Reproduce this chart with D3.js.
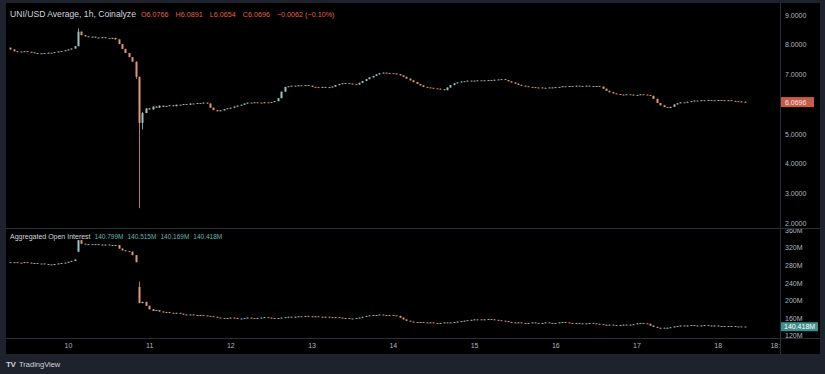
<!DOCTYPE html>
<html>
<head>
<meta charset="utf-8">
<script src="https://cdn.jsdelivr.net/npm/d3@7"></script>
<style>
  html, body { margin: 0; padding: 0; background: #1e222d; }
  svg { display: block; font-family: "Liberation Sans", Arial, sans-serif; }
</style>
</head>
<body>
<div id="chart"></div>
<script>
// hourly candles, hour 0 = the 10th 00:00
const firstHour = -17
const firstOpen = 7.90

// UNI/USD closes, one per hour from hour -17 to hour 200
const priceClose = [
  7.84, 7.78, 7.76, 7.77, 7.78, 7.76, 7.74, 7.72, 7.70, 7.71, 7.72, 7.73,   // -17..-6
  7.72, 7.75, 7.77, 7.79, 7.81, 7.84, 7.87, 7.95, 8.44, 8.32, 8.28, 8.26,   // -5..6
  8.27, 8.24, 8.23, 8.25, 8.22, 8.21, 8.23, 8.18, 8.02, 7.86, 7.72, 7.58,   // 7..18
  7.43, 6.92, 5.37, 5.70, 5.86, 5.82, 5.92, 5.88, 5.95, 5.91, 5.94, 5.96,   // 19..30
  5.93, 5.98, 5.97, 6.00, 5.98, 6.02, 6.01, 6.04, 6.03, 6.05, 6.02, 5.88,   // 31..42
  5.80, 5.76, 5.79, 5.83, 5.86, 5.88, 5.92, 5.95, 5.98, 6.02, 6.05, 6.04,   // 43..54
  6.06, 6.05, 6.04, 6.06, 6.05, 6.07, 6.10, 6.20, 6.42, 6.58, 6.60, 6.62,   // 55..66
  6.61, 6.63, 6.62, 6.64, 6.62, 6.58, 6.57, 6.56, 6.58, 6.56, 6.57, 6.59,   // 67..78
  6.64, 6.68, 6.70, 6.71, 6.69, 6.67, 6.66, 6.72, 6.78, 6.84, 6.90, 6.95,   // 79..90
  7.00, 7.04, 7.06, 7.05, 7.04, 7.03, 7.01, 6.97, 6.92, 6.86, 6.80, 6.74,   // 91..102
  6.68, 6.63, 6.58, 6.56, 6.55, 6.53, 6.52, 6.50, 6.47, 6.56, 6.64, 6.70,   // 103..114
  6.73, 6.76, 6.77, 6.79, 6.78, 6.79, 6.80, 6.79, 6.80, 6.81, 6.80, 6.82,   // 115..126
  6.83, 6.84, 6.81, 6.77, 6.73, 6.69, 6.65, 6.62, 6.60, 6.58, 6.57, 6.55,   // 127..138
  6.56, 6.54, 6.55, 6.56, 6.55, 6.57, 6.58, 6.60, 6.59, 6.61, 6.60, 6.62,   // 139..150
  6.61, 6.60, 6.62, 6.61, 6.60, 6.61, 6.59, 6.52, 6.45, 6.40, 6.36, 6.34,   // 151..162
  6.32, 6.31, 6.33, 6.32, 6.30, 6.31, 6.33, 6.32, 6.31, 6.28, 6.18, 6.04,   // 163..174
  5.96, 5.90, 5.87, 5.91, 5.99, 6.03, 6.06, 6.05, 6.08, 6.10, 6.12, 6.11,   // 175..186
  6.13, 6.12, 6.14, 6.13, 6.12, 6.14, 6.13, 6.12, 6.13, 6.11, 6.10, 6.09,   // 187..198
  6.0766, 6.0696                                                           // 199..200
]

// candles whose wicks reach past the body
const wickHours = [3, 20, 21, 22, 200]
const wickHigh  = [8.55, 7.43, 6.92, 5.74, 6.0891]
const wickLow   = [7.95, 6.85, 2.50, 5.15, 6.0654]

// Aggregated open interest closes (millions), same hours
const oiClose = [
  287, 287, 286, 286, 287, 286, 285, 285, 284, 284, 283, 282,               // -17..-6
  282, 283, 284, 285, 286, 288, 290, 293,                                   // -5..2
  337, 329, 328, 328,                                                       // 3..6
  327, 328, 327, 326, 327, 326, 325, 326,                                   // 7..14
  318, 314, 312, 311, 303, 287,                                             // 15..20
  194, 197, 188, 180, 176,                                                  // 21..25
  178, 175, 173, 174, 172, 171, 172, 170,                                   // 26..33
  168, 167, 168, 167, 166, 167, 166, 165, 164, 163,                         // 34..43
  161, 160, 159, 160, 161, 160, 158, 159, 160, 161, 160, 159, 160,          // 44..56
  161, 162, 161, 160, 159, 160, 161, 162, 163, 162, 163, 164,               // 57..68
  164, 165, 164, 163, 164, 163, 162, 163, 162, 161, 162, 161, 160,          // 69..81
  160, 159, 159, 160, 161, 163, 165,                                        // 82..88
  166, 167, 167, 168, 167, 166, 167, 166, 165,                              // 89..97
  161, 157, 154, 152,                                                       // 98..101
  151, 150, 151, 150, 149, 150, 149, 148, 149, 150, 149, 150, 151, 152, 153, 154, 155, // 102..118
  156, 157, 157, 156, 157, 158, 157, 156, 155, 154, 153, 151,               // 119..130
  150, 149, 150, 149, 148, 149, 150, 149, 148, 149, 150, 149, 148, 149,     // 131..144
  150, 151, 150, 149, 148, 149, 148, 147, 148, 149, 148, 147, 146,          // 145..157
  145, 144, 145, 144, 143, 144, 145, 144, 145, 146,                         // 158..167
  148, 149, 148, 147, 143, 140,                                             // 168..173
  138, 138, 137, 138, 139, 141,                                             // 174..179
  142, 143, 142, 143, 144, 143, 142, 143, 144, 143, 142, 143, 142, 141,     // 180..193
  142, 141, 142, 141, 141, 140.799, 140.418                                 // 194..200
]
const oiGapHours = [3, 21]
const oiGapOpen  = [311, 231]
const oiGapHigh  = [337.5, 243]

// 6.0000 sits under the last-price label, so it is not shown
const priceTicks = [2, 3, 4, 5, 7, 8, 9]
const oiTicks = [120, 160, 200, 240, 280, 320, 360]
const dayTicks = [0, 24, 48, 72, 96, 120, 144, 168, 192, 210]
const dayLabels = ["10", "11", "12", "13", "14", "15", "16", "17", "18", "18:00"]

const headerTitle = "UNI/USD Average, 1h, Coinalyze"
const headerValues = ["O6.0766", "H6.0891", "L6.0654", "C6.0696", "\u22120.0062 (\u22120.10%)"]
const oiTitle = "Aggregated Open Interest"
const oiValues = ["140.799M", "140.515M", "140.169M", "140.418M"]
const lastPrice = "6.0696"
const lastOI = "140.418M"

const upColor = "#9cc3c4"
const downColor = "#e0977f"
const textColor = "#b2b5be"

window.onload = () => {
  const width = 825, height = 374
  const left = 6, right = 780, top = 3, paneSplit = 228, axisTop = 338, bottom = 354

  const svg = d3.select("#chart").append("svg")
    .attr("width", width)
    .attr("height", height)

  // frame and black chart area
  svg.append("rect").attr("width", width).attr("height", height).attr("fill", "#1e222d")
  svg.append("rect")
    .attr("x", left).attr("y", top)
    .attr("width", 820 - left).attr("height", bottom - top)
    .attr("fill", "#000")

  const x = d3.scaleLinear().domain([-18, 210.4]).range([7, right])
  const yPrice = d3.scaleLinear().domain([2, 9]).range([223, 15])
  const yOI = d3.scaleLinear().domain([120, 320]).range([335.7, 247.7])

  const defs = svg.append("defs")
  defs.append("clipPath").attr("id", "clipTop")
    .append("rect").attr("x", left).attr("y", top).attr("width", right - left).attr("height", paneSplit - top)
  defs.append("clipPath").attr("id", "clipBottom")
    .append("rect").attr("x", left).attr("y", paneSplit).attr("width", right - left).attr("height", axisTop - paneSplit)
  defs.append("clipPath").attr("id", "clipOIAxis")
    .append("rect").attr("x", right).attr("y", paneSplit + 1).attr("width", 40).attr("height", axisTop - paneSplit)
  defs.append("clipPath").attr("id", "clipXAxis")
    .append("rect").attr("x", left).attr("y", axisTop).attr("width", right - left).attr("height", bottom - axisTop)

  // build OHLC rows
  const priceData = priceClose.map((c, i) => {
    const h = firstHour + i
    const o = i === 0 ? firstOpen : priceClose[i - 1]
    let hi = Math.max(o, c), lo = Math.min(o, c)
    const w = wickHours.indexOf(h)
    if (w >= 0) { hi = wickHigh[w]; lo = wickLow[w] }
    return { h, o, c, hi, lo }
  })
  const oiData = oiClose.map((c, i) => {
    const h = firstHour + i
    let o = i === 0 ? c : oiClose[i - 1]
    let hi = Math.max(o, c), lo = Math.min(o, c)
    const g = oiGapHours.indexOf(h)
    if (g >= 0) { o = oiGapOpen[g]; hi = oiGapHigh[g]; lo = Math.min(o, c) }
    return { h, o, c, hi, lo }
  })

  const drawCandles = (g, data, y) => {
    const bodyW = 2
    g.selectAll("line.wick").data(data).enter().append("line")
      .attr("class", "wick")
      .attr("x1", d => Math.round(x(d.h)) + 0.5)
      .attr("x2", d => Math.round(x(d.h)) + 0.5)
      .attr("y1", d => y(d.hi))
      .attr("y2", d => y(d.lo))
      .attr("stroke", d => d.c >= d.o ? upColor : downColor)
      .attr("stroke-width", 0.8)
    g.selectAll("rect.body").data(data).enter().append("rect")
      .attr("class", "body")
      .attr("x", d => Math.round(x(d.h)) + 0.5 - bodyW / 2)
      .attr("width", bodyW)
      .attr("y", d => y(Math.max(d.o, d.c)))
      .attr("height", d => Math.max(0.9, Math.abs(y(d.o) - y(d.c))))
      .attr("fill", d => d.c >= d.o ? upColor : downColor)
  }

  drawCandles(svg.append("g").attr("clip-path", "url(#clipTop)"), priceData, yPrice)
  drawCandles(svg.append("g").attr("clip-path", "url(#clipBottom)"), oiData, yOI)

  // separators
  const sep = "#2a2e39"
  svg.append("line").attr("x1", right + 0.5).attr("x2", right + 0.5).attr("y1", top).attr("y2", bottom)
    .attr("stroke", sep)
  svg.append("line").attr("x1", left).attr("x2", 820).attr("y1", paneSplit + 0.5).attr("y2", paneSplit + 0.5)
    .attr("stroke", sep)
  svg.append("line").attr("x1", left).attr("x2", 820).attr("y1", axisTop + 0.5).attr("y2", axisTop + 0.5)
    .attr("stroke", sep)

  // price axis
  const priceAxis = svg.append("g")
    .attr("transform", `translate(${right},0)`)
    .call(d3.axisRight(yPrice).tickValues(priceTicks).tickSize(0).tickPadding(5).tickFormat(d3.format(".4f")))
  priceAxis.select(".domain").remove()
  priceAxis.selectAll("text").attr("fill", textColor).attr("font-size", 7).attr("font-family", "Liberation Sans, Arial, sans-serif")

  // OI axis
  const oiAxis = svg.append("g")
    .attr("clip-path", "url(#clipOIAxis)")
    .append("g")
    .attr("transform", `translate(${right},0)`)
    .call(d3.axisRight(yOI).tickValues(oiTicks).tickSize(0).tickPadding(5).tickFormat(d => d + "M"))
  oiAxis.select(".domain").remove()
  oiAxis.selectAll("text").attr("fill", textColor).attr("font-size", 7).attr("font-family", "Liberation Sans, Arial, sans-serif")

  // time axis
  const timeAxis = svg.append("g")
    .attr("clip-path", "url(#clipXAxis)")
    .append("g")
    .attr("transform", `translate(0,${axisTop})`)
    .call(d3.axisBottom(x).tickValues(dayTicks).tickSize(0).tickPadding(5).tickFormat((d, i) => dayLabels[i]))
  timeAxis.select(".domain").remove()
  timeAxis.selectAll("text").attr("fill", textColor).attr("font-size", 7).attr("font-family", "Liberation Sans, Arial, sans-serif")

  // last value labels
  const lastP = priceData[priceData.length - 1].c
  svg.append("rect").attr("x", right + 1).attr("y", yPrice(lastP) - 5).attr("width", 33).attr("height", 10)
    .attr("fill", "#c85a48")
  svg.append("text").attr("x", right + 5).attr("y", yPrice(lastP) + 2.5)
    .attr("fill", "#fde6df").attr("font-size", 7).text(lastPrice)

  const lastO = oiData[oiData.length - 1].c
  svg.append("rect").attr("x", right + 1).attr("y", yOI(lastO) - 4.5).attr("width", 37).attr("height", 9)
    .attr("fill", "#3f8f8a")
  svg.append("text").attr("x", right + 4).attr("y", yOI(lastO) + 2.5)
    .attr("fill", "#ffffff").attr("font-size", 7).text(lastOI)

  // legends
  const head = svg.append("text").attr("x", 10).attr("y", 16.5)
  head.append("tspan").attr("fill", "#d1d4dc").attr("font-size", 8.6).text(headerTitle)
  headerValues.forEach((v, i) => {
    head.append("tspan").attr("dx", i === 0 ? 5 : 7).attr("font-size", 7.2).attr("fill", "#e2604f").text(v)
  })

  const oiHead = svg.append("text").attr("x", 10).attr("y", 239)
  oiHead.append("tspan").attr("fill", "#d1d4dc").attr("font-size", 7).text(oiTitle)
  oiValues.forEach((v, i) => {
    oiHead.append("tspan").attr("dx", 4).attr("font-size", 6.5).attr("fill", "#5fb8ab").text(v)
  })

  // TradingView mark
  svg.append("text").attr("x", 6).attr("y", 367).attr("font-size", 8).attr("font-weight", "bold")
    .attr("fill", "#d1d4dc").attr("letter-spacing", -0.5).text("TV")
  svg.append("text").attr("x", 19).attr("y", 367).attr("font-size", 7.5)
    .attr("fill", "#d1d4dc").text("TradingView")
}
</script>
</body>
</html>
